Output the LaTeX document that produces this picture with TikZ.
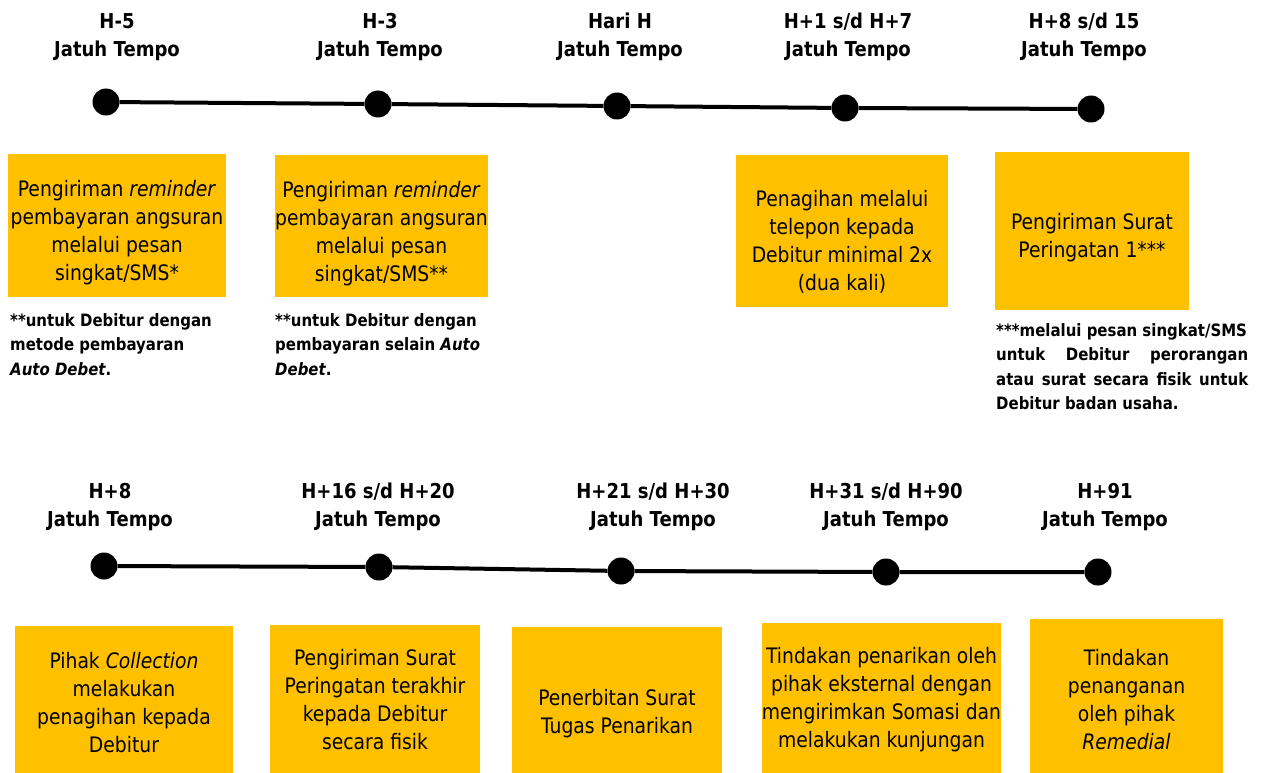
\documentclass[tikz,border=0pt]{standalone}
\usepackage{fontspec}
\setmainfont{DejaVu Sans}[FakeStretch=0.88]
\definecolor{gold}{HTML}{FFC000}
\begin{document}
\begin{tikzpicture}[x=1pt,y=-1pt,
  boxbg/.style={fill=gold, draw=none, anchor=north west, inner sep=0pt},
  boxtx/.style={align=center, inner sep=0pt, font=\fontsize{21.3}{28}\selectfont},
  hdr/.style={align=center, inner sep=0pt, font=\bfseries\fontsize{20.5}{28}\selectfont},
  note/.style={align=left, anchor=north west, inner sep=0pt, font=\bfseries\fontsize{17}{24.5}\selectfont},
  dot/.style={circle, fill=black, minimum size=27pt, inner sep=0pt},
  tl/.style={line width=4pt}]
\useasboundingbox (0,0) rectangle (1268,773);
% ---- top row
\node[hdr] (h1) at (117,37) {H-5\\Jatuh Tempo};
\node[hdr] (h2) at (380,37) {H-3\\Jatuh Tempo};
\node[hdr] (h3) at (620,37) {Hari H\\Jatuh Tempo};
\node[hdr] (h4) at (848,37) {H+1 s/d H+7\\Jatuh Tempo};
\node[hdr] (h5) at (1084,37) {H+8 s/d 15\\Jatuh Tempo};
\node[dot] (d1) at (106,102) {};
\node[dot] (d2) at (378,104) {};
\node[dot] (d3) at (617,106) {};
\node[dot] (d4) at (845,108) {};
\node[dot] (d5) at (1091,109) {};
\draw[tl] (d1) -- (d2) -- (d3) -- (d4) -- (d5);
\node[boxbg, minimum width=218pt, minimum height=143pt] (b1bg) at (8,154) {};
\node[boxbg, minimum width=213pt, minimum height=142pt] (b2bg) at (275,155) {};
\node[boxbg, minimum width=212pt, minimum height=152pt] (b3bg) at (736,155) {};
\node[boxbg, minimum width=194pt, minimum height=158pt] (b4bg) at (995,152) {};
\node[boxtx] (b1) at (117,233)
  {Pengiriman \textit{reminder}\\pembayaran angsuran\\melalui pesan\\singkat/SMS*};
\node[boxtx] (b2) at (381.5,233.5)
  {Pengiriman \textit{reminder}\\pembayaran angsuran\\melalui pesan\\singkat/SMS**};
\node[boxtx] (b3) at (842,242)
  {Penagihan melalui\\telepon kepada\\Debitur minimal 2x\\(dua kali)};
\node[boxtx] (b4) at (1092,237.5)
  {Pengiriman Surat\\Peringatan 1***};
\node[note] (n1) at (10,313) {**untuk Debitur dengan\\metode pembayaran\\\textit{Auto Debet}.};
\node[note] (n2) at (275,313) {**untuk Debitur dengan\\pembayaran selain \textit{Auto}\\\textit{Debet}.};
\node[note] (n3) at (996,323) {***melalui pesan singkat/SMS\\
  \makebox[252pt][s]{untuk Debitur perorangan}\\
  \makebox[252pt][s]{atau surat secara fisik untuk}\\
  Debitur badan usaha.};
% ---- bottom row
\node[hdr] (g1) at (110,507) {H+8\\Jatuh Tempo};
\node[hdr] (g2) at (378,507) {H+16 s/d H+20\\Jatuh Tempo};
\node[hdr] (g3) at (653,507) {H+21 s/d H+30\\Jatuh Tempo};
\node[hdr] (g4) at (886,507) {H+31 s/d H+90\\Jatuh Tempo};
\node[hdr] (g5) at (1105,507) {H+91\\Jatuh Tempo};
\node[dot] (e1) at (104,566) {};
\node[dot] (e2) at (379,567) {};
\node[dot] (e3) at (621,571) {};
\node[dot] (e4) at (886,572) {};
\node[dot] (e5) at (1098,572) {};
\draw[tl] (e1) -- (e2) -- (e3) -- (e4) -- (e5);
\node[boxbg, minimum width=218pt, minimum height=150pt] (c1bg) at (15,626) {};
\node[boxbg, minimum width=210pt, minimum height=150pt] (c2bg) at (270,625) {};
\node[boxbg, minimum width=210pt, minimum height=150pt] (c3bg) at (512,627) {};
\node[boxbg, minimum width=239pt, minimum height=152pt] (c4bg) at (762,623) {};
\node[boxbg, minimum width=193pt, minimum height=156pt] (c5bg) at (1030,619) {};
\node[boxtx] (c1) at (124,703)
  {Pihak \textit{Collection}\\melakukan\\penagihan kepada\\Debitur};
\node[boxtx] (c2) at (375,699.5)
  {Pengiriman Surat\\Peringatan terakhir\\kepada Debitur\\secara fisik};
\node[boxtx] (c3) at (617,713.5)
  {Penerbitan Surat\\Tugas Penarikan};
\node[boxtx] (c4) at (881.5,699.5)
  {Tindakan penarikan oleh\\pihak eksternal dengan\\mengirimkan Somasi dan\\melakukan kunjungan};
\node[boxtx] (c5) at (1126.5,699.5)
  {Tindakan\\penanganan\\oleh pihak\\\textit{Remedial}};
\end{tikzpicture}
\end{document}
